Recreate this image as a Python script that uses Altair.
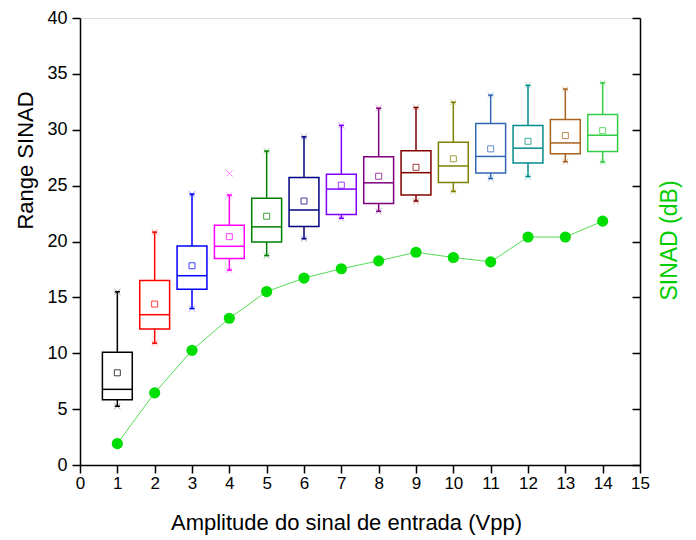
import altair as alt
import pandas as pd

positions = list(range(1, 15))
whisker_low = [5.26, 10.9, 14.0, 17.44, 18.74, 20.25, 22.08, 22.7, 23.62, 24.48, 25.63, 25.81, 27.14, 27.11]
q1 = [5.85, 12.18, 15.73, 18.48, 19.96, 21.35, 22.41, 23.39, 24.15, 25.28, 26.13, 27.02, 27.85, 28.06]
median = [6.77, 13.45, 16.94, 19.57, 21.31, 22.82, 24.69, 25.25, 26.16, 26.76, 27.61, 28.35, 28.82, 29.51]
q3 = [10.1, 16.5, 19.6, 21.46, 23.86, 25.72, 26.02, 27.58, 28.12, 28.88, 30.57, 30.39, 30.92, 31.37]
whisker_high = [15.5, 20.84, 24.24, 24.15, 28.09, 29.36, 30.39, 31.93, 31.99, 32.46, 33.1, 33.97, 33.64, 34.2]
mean = [8.25, 14.4, 17.83, 20.43, 22.26, 23.62, 25.04, 25.84, 26.64, 27.4, 28.29, 28.97, 29.48, 29.92]
outlier_x = [4]
outlier_y = [26.1]
outlier_color = ["#FF00FF"]
sinad = [1.92, 6.45, 10.26, 13.13, 15.52, 16.73, 17.56, 18.27, 19.04, 18.57, 18.18, 20.4, 20.4, 21.82]
colors = ["#000000", "#FF0000", "#0000FF", "#FF00FF", "#008000", "#000080", "#8000FF",
          "#800080", "#800000", "#808000", "#3366B3", "#008B8B", "#A8621E", "#33CC44"]

x_ticks = list(range(0, 16))
y_all = [i * 2.5 for i in range(17)]

FONT = "Arial, Liberation Sans, sans-serif"
PLOT_W, PLOT_H = 560, 447
TOP = 10

df = pd.DataFrame({
    "pos": positions, "wlo": whisker_low, "q1": q1, "med": median, "q3": q3,
    "whi": whisker_high, "mean": mean, "color": colors, "sinad": sinad,
})
out_df = pd.DataFrame({"pos": outlier_x, "val": outlier_y, "color": outlier_color})

xs = alt.Scale(domain=[0, 15], nice=False, zero=False)
ys = alt.Scale(domain=[0, 40], nice=False, zero=False)
col = alt.Color("color:N", scale=None, legend=None)

x_axis = alt.Axis(values=x_ticks, title="Amplitude do sinal de entrada (Vpp)", grid=False,
                  labelOverlap=False, labelFlush=False, tickSize=8, tickColor="black",
                  domainColor="black", labelFontSize=17, labelFont=FONT, labelColor="black",
                  labelPadding=2, titleFont=FONT, titleFontSize=22, titleFontWeight="normal",
                  titleColor="black", titleX=266, titleY=57, titleAlign="center",
                  titleBaseline="middle", domainWidth=1.5, tickWidth=1.5)
y_axis = alt.Axis(values=y_all, title="Range SINAD", grid=False, labelOverlap=False,
                  labelFlush=False,
                  tickSize={"condition": {"test": "datum.value % 5 === 0", "value": 8}, "value": 4},
                  labelExpr="datum.value % 5 === 0 ? datum.label : ''",
                  tickColor="black", domainColor="black", labelFontSize=18, labelFont=FONT,
                  labelColor="black", labelPadding=5, titleFont=FONT, titleFontSize=22,
                  titleFontWeight="normal", titleColor="black", titleX=-55,
                  titleY=160 - (8 + TOP), titleAngle=-90, titleAlign="center",
                  titleBaseline="middle", domainWidth=1.5, tickWidth=1.5)
y_right = alt.Axis(values=y_all, title="SINAD (dB)", orient="left", offset=-PLOT_W, grid=False,
                   labels=False,
                   tickSize={"condition": {"test": "datum.value % 5 === 0", "value": 8}, "value": 5},
                   tickColor="black", domainColor="black", domainWidth=1.5, tickWidth=1.5,
                   titleFont=FONT, titleFontSize=23, titleFontWeight="normal",
                   titleColor="#00CC00", titleX=29, titleY=240 - (8 + TOP), titleAngle=-90,
                   titleAlign="center", titleBaseline="middle")


def X(field):
    return alt.X(field, scale=xs, axis=x_axis)


base = alt.Chart(df)

boxes = base.transform_calculate(xl="datum.pos - 0.4", xr="datum.pos + 0.4").mark_rect(
    fill="white", fillOpacity=0, strokeWidth=1.5
).encode(
    x=X("xl:Q"), x2="xr:Q",
    y=alt.Y("q1:Q", scale=ys, axis=y_axis), y2="q3:Q",
    stroke=alt.Stroke("color:N", scale=None, legend=None),
)
med = base.transform_calculate(xl="datum.pos - 0.4", xr="datum.pos + 0.4").mark_rule(
    strokeWidth=1.5).encode(x=X("xl:Q"), x2="xr:Q", y=alt.Y("med:Q", scale=ys), color=col)
w_lo = base.mark_rule(strokeWidth=1.5).encode(
    x=X("pos:Q"), y=alt.Y("wlo:Q", scale=ys), y2="q1:Q", color=col)
w_hi = base.mark_rule(strokeWidth=1.5).encode(
    x=X("pos:Q"), y=alt.Y("q3:Q", scale=ys), y2="whi:Q", color=col)
caps_calc = base.transform_calculate(xl="datum.pos - 0.07", xr="datum.pos + 0.07")
cap_lo = caps_calc.mark_rule(strokeWidth=1.5).encode(
    x=X("xl:Q"), x2="xr:Q", y=alt.Y("wlo:Q", scale=ys), color=col)
cap_hi = caps_calc.mark_rule(strokeWidth=1.5).encode(
    x=X("xl:Q"), x2="xr:Q", y=alt.Y("whi:Q", scale=ys), color=col)
xshape = "M-1,-1L1,1M-1,1L1,-1"
x_lo = base.mark_point(shape=xshape, size=40, filled=False, opacity=0.35, strokeWidth=1).encode(
    x=X("pos:Q"), y=alt.Y("wlo:Q", scale=ys), color=col)
x_hi = base.mark_point(shape=xshape, size=40, filled=False, opacity=0.35, strokeWidth=1).encode(
    x=X("pos:Q"), y=alt.Y("whi:Q", scale=ys), color=col)
outl = alt.Chart(out_df).mark_point(shape=xshape, size=40, filled=False, opacity=0.5, strokeWidth=1).encode(
    x=X("pos:Q"), y=alt.Y("val:Q", scale=ys), color=col)
means = base.mark_point(shape="square", size=36, filled=False, opacity=0.75, strokeWidth=1).encode(
    x=X("pos:Q"), y=alt.Y("mean:Q", scale=ys), color=col)

line = base.mark_line(color="#55DD55", strokeWidth=1).encode(
    x=X("pos:Q"), y=alt.Y("sinad:Q", scale=ys, axis=y_right))
dots = base.mark_circle(color="#00DD00", size=125, opacity=1).encode(
    x=X("pos:Q"), y=alt.Y("sinad:Q", scale=ys))

left = alt.layer(boxes, med, w_lo, w_hi, cap_lo, cap_hi, x_lo, x_hi, outl, means)
right = alt.layer(line, dots)

chart = alt.layer(left, right).resolve_axis(y="independent").properties(
    width=PLOT_W, height=PLOT_H,
    autosize=alt.AutoSizeParams(type="none"),
    padding={"left": 72, "top": TOP, "right": 48, "bottom": 72},
).configure_view(stroke=None).configure(background="white")

chart.save("out.html", embed_options={"renderer": "svg", "actions": False})
